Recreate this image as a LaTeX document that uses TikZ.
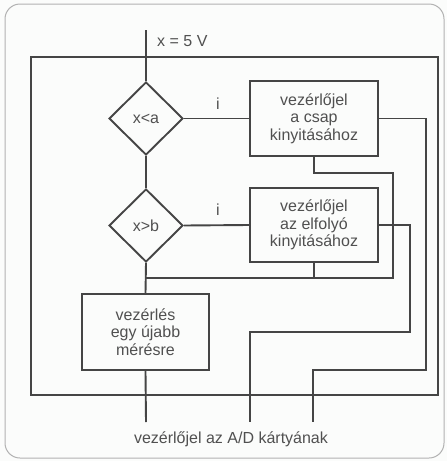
\documentclass[tikz,border=0pt]{standalone}
\usepackage{fontspec}
\setmainfont{Liberation Sans}
\usetikzlibrary{shapes.geometric}
\definecolor{ln}{HTML}{454545}
\definecolor{tx}{HTML}{505050}
\definecolor{bg}{HTML}{FBFCFB}
\begin{document}
\begin{tikzpicture}[x=1pt,y=-1pt,
  every node/.style={font=\fontsize{16}{17.5}\selectfont, text=tx},
  wire/.style={draw=ln, line width=1.9pt},
  dec/.style={diamond, draw=ln, line width=1.9pt, minimum width=74pt, minimum height=73pt, inner sep=0pt},
  blk/.style={rectangle, draw=ln, line width=1.9pt, align=center, inner sep=0pt},
  lbl/.style={inner sep=0pt}]
\fill[bg] (0,0) rectangle (447,461);
\useasboundingbox (0,0) rectangle (447,461);
\draw[gray!60, line width=1pt, rounded corners=15pt] (5,4) rectangle (444,458);
% frame
\draw[wire] (31,57) rectangle (438,395);
% nodes
\node[dec] (d1) at (146,118.5) {x<a};
\node[dec] (d2) at (146,225.5) {x>b};
\node[blk, minimum width=128pt, minimum height=75pt] (b1) at (314,118.5) {vezérlőjel\\a csap\\kinyitásához};
\node[blk, minimum width=128pt, minimum height=74pt] (b2) at (314,225) {vezérlőjel\\az elfolyó\\kinyitásához};
\node[blk, minimum width=127pt, minimum height=76pt] (b3) at (145.5,332) {vezérlés\\egy újabb\\mérésre};
\node[lbl, anchor=west] (xin) at (157,41) {x = 5 V};
\node[lbl] (i1) at (218,104) {i};
\node[lbl] (i2) at (218,210) {i};
\node[lbl] (out) at (231,439) {vezérlőjel az A/D kártyának};
% coordinates
\coordinate (top) at (146,30);
\coordinate (j) at (146,278);
\coordinate (o1) at (146,422);
\coordinate (o2) at (250,422);
\coordinate (o3) at (313,422);
% connectors
\draw[wire] (top) -- (d1.north);
\draw[wire] (d1.south) -- (d2.north);
\draw[wire] (d2.south) -- (b3.north);
\draw[wire] (d1.east) -- (b1.west);
\draw[wire] (d2.east) -- (b2.west);
\draw[wire] (b1.south) -- ++(0,16) -| (393,278) -- (j);
\draw[wire] (b2.south) -- (b2.south |- j);
\draw[wire] (b1.east) -| (426,370) -| (o3);
\draw[wire] (b2.east) -| (410,332) -| (o2);
\draw[wire] (b3.south) -- (o1);
\end{tikzpicture}
\end{document}
